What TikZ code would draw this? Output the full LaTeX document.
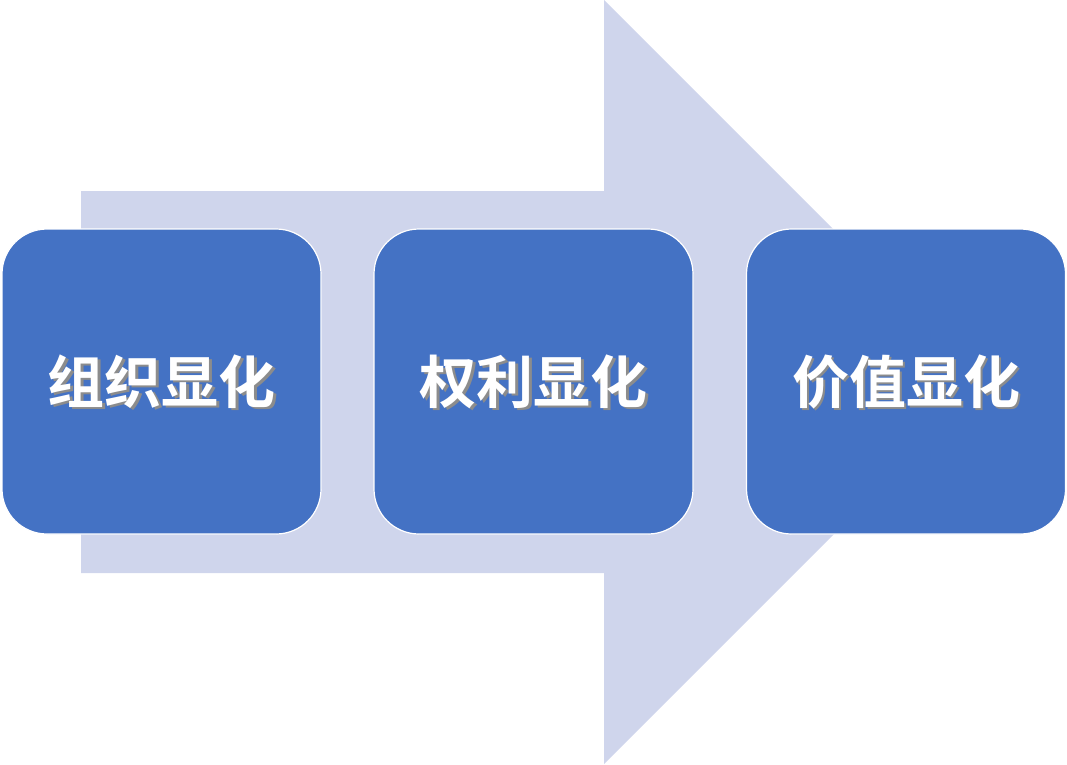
\documentclass[tikz,border=0pt]{standalone}
\usepackage{fontspec}
\newfontfamily\cjk{Noto Sans CJK SC}[BoldFont={Noto Sans CJK SC Bold}]
\definecolor{arrowc}{HTML}{CFD5EC}
\definecolor{boxc}{HTML}{4472C4}
\begin{document}
\begin{tikzpicture}[x=1pt,y=-1pt,
  stage/.style={draw=white,line width=1.2pt,fill=boxc,rounded corners=45pt,minimum width=319pt,minimum height=305pt,inner sep=0pt},
  lbl/.style={text=white,font=\cjk\bfseries\fontsize{57}{57}\selectfont},
  shd/.style={text=black!45,font=\cjk\bfseries\fontsize{57}{57}\selectfont}]
\useasboundingbox (0,0) rectangle (1067,764);
\fill[arrowc] (81,191) -- (604,191) -- (604,0) -- (986,382) -- (604,764) -- (604,573) -- (81,573) -- cycle;
\node[stage] (a) at (161.5,381.5) {};
\node[stage] (b) at (533.5,381.5) {};
\node[stage] (c) at (906,381.5) {};
\foreach \n/\t in {a/组织显化,b/权利显化,c/价值显化}{
  \node[shd] at ([shift={(2.5,2.5)}]\n) {\t};
  \node[lbl] at (\n) {\t};
}
\end{tikzpicture}
\end{document}
